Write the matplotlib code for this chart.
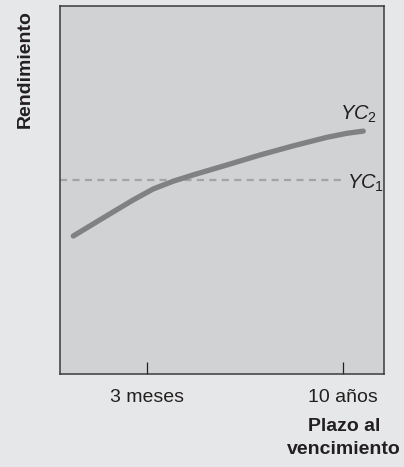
import numpy as np
import matplotlib
matplotlib.use("Agg")
import matplotlib.pyplot as plt

plt.rcParams['font.family'] = ['Liberation Sans', 'DejaVu Sans']
plt.rcParams['mathtext.fontset'] = 'custom'
plt.rcParams['mathtext.rm'] = 'Liberation Sans'
plt.rcParams['mathtext.it'] = 'Liberation Sans:italic'

# curva YC2 (plazo, rendimiento)
plazo_yc2 = [0.41, 1.03, 1.65, 2.26, 2.88, 3.50, 4.11, 5.15, 6.17, 7.20, 8.23, 8.85, 9.36]
rend_yc2 = [3.75, 4.08, 4.41, 4.73, 5.03, 5.24, 5.41, 5.68, 5.95, 6.20, 6.43, 6.54, 6.60]

# curva YC1 (plana)
plazo_yc1 = [0.0, 8.73]
rend_yc1 = [5.27, 5.27]

tick_pos = [2.69, 8.73]
tick_labels = ["3 meses", "10 años"]

fig = plt.figure(figsize=(4.04, 4.67), dpi=100)
fig.patch.set_facecolor('#e6e7e8')
ax = fig.add_axes([60/404, 93/467, 324/404, 368/467])
ax.set_facecolor('#d1d2d4')

ax.plot(plazo_yc1, rend_yc1, color='#a3a4a6', lw=1.6, dashes=(3.2, 2.4))
ax.plot(plazo_yc2, rend_yc2, color='#808183', lw=3.8, solid_capstyle='round')

ax.text(8.64, 6.9, r'$\mathit{YC}_2$', fontsize=14.5, color='#231f20', ha='left', va='baseline')
ax.text(8.86, 5.03, r'$\mathit{YC}_1$', fontsize=14.5, color='#231f20', ha='left', va='baseline')

ax.set_xlim(0, 10)
ax.set_ylim(0, 10)
ax.set_xticks(tick_pos)
ax.set_xticklabels(tick_labels, fontsize=14, color='#231f20')
ax.set_yticks([])
ax.tick_params(axis='x', direction='in', length=8.6, width=0.9, color='#231f20', pad=11)
for s in ax.spines.values():
    s.set_color('#3a3a3a')
    s.set_linewidth(1.1)

fig.text(25/404, 1 - 10/467, 'Rendimiento', rotation=90, fontsize=14, fontweight='bold',
         ha='center', va='top', color='#231f20')
fig.text(344/404, 1 - 418/467, 'Plazo al\nvencimiento', fontsize=14, fontweight='bold',
         ha='center', va='top', color='#231f20', linespacing=1.45)

fig.savefig('out.png', dpi=100, facecolor=fig.get_facecolor())
